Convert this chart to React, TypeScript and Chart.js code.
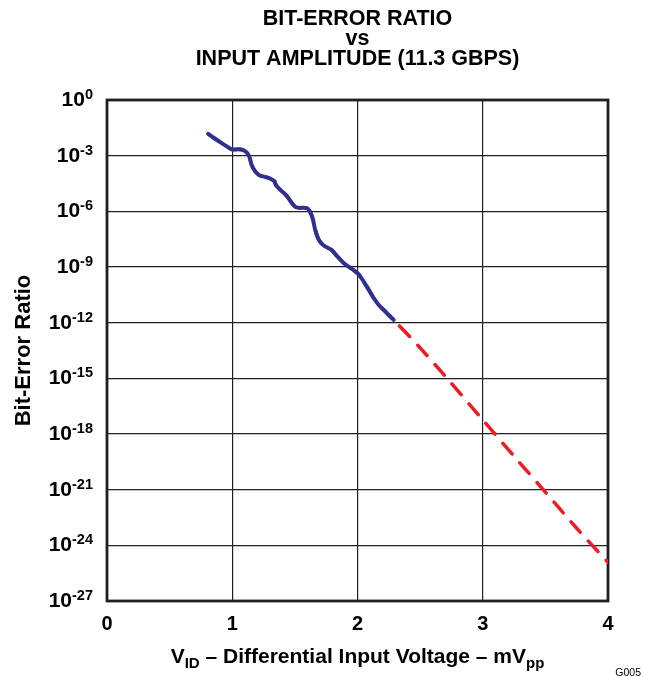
import React, { useEffect, useRef } from "react";
import { Chart, registerables } from "chart.js";

Chart.register(...registerables);

// Measured bit-error ratio vs differential input voltage (blue trace)
const measuredVoltage = [
  0.808, 0.848, 0.928, 0.995, 1.048, 1.088, 1.115, 1.136, 1.155, 1.181, 1.216,
  1.261, 1.301, 1.336, 1.349, 1.381, 1.435, 1.496, 1.528, 1.595, 1.621, 1.643,
  1.661, 1.688, 1.728, 1.795, 1.835, 1.901, 1.968, 2.008, 2.048, 2.088, 2.128,
  2.168, 2.23, 2.289,
];
const measuredBER = [
  1.5e-2, 9.5e-3, 4.2e-3, 2.2e-3, 2.2e-3, 2.0e-3, 1.5e-3, 8.9e-4, 3.1e-4, 1.5e-4, 8.9e-5,
  7.2e-5, 5.9e-5, 4.2e-5, 2.6e-5, 1.5e-5, 6.8e-6, 1.9e-6, 1.55e-6, 1.5e-6, 9.8e-7, 3.9e-7,
  1.1e-7, 3.2e-8, 1.5e-8, 8.1e-9, 4.0e-9, 1.4e-9, 6.9e-10, 4.1e-10, 1.7e-10, 6.2e-11, 2.2e-11,
  9.3e-12, 3.5e-12, 1.4e-12,
];

// Extrapolated fit beyond the measured range (red dashed trace)
const fitVoltage = [2.5, 2.715, 3.0, 3.25, 3.5, 3.75, 4.0];
const fitBER = [4.4e-14, 1.0e-15, 5.8e-18, 6.3e-20, 7.4e-22, 8.3e-24, 1.2e-25];

const xTickValues = [0, 1, 2, 3, 4];
const yTickExponents = [0, -3, -6, -9, -12, -15, -18, -21, -24, -27];

const titleLines = ["BIT-ERROR RATIO", "vs", "INPUT AMPLITUDE (11.3 GBPS)"];
const yAxisTitle = "Bit-Error Ratio";
const xAxisTitleParts = [
  { text: "V", sub: false },
  { text: "ID", sub: true },
  { text: " \u2013 Differential Input Voltage \u2013 mV", sub: false },
  { text: "pp", sub: true },
];
const figureId = "G005";

const FONT = "'Liberation Sans', Arial, Helvetica, sans-serif";
const INK = "#231F20";

const textPlugin = {
  id: "customTexts",
  beforeDatasetsDraw(chart: any) {
    const { ctx, chartArea } = chart;
    ctx.save();
    ctx.strokeStyle = INK;
    ctx.lineWidth = 2.8;
    ctx.strokeRect(
      chartArea.left,
      chartArea.top,
      chartArea.right - chartArea.left,
      chartArea.bottom - chartArea.top
    );
    ctx.restore();
  },
  afterDraw(chart: any) {
    const { ctx, chartArea, scales } = chart;
    const cx = (chartArea.left + chartArea.right) / 2;
    const cy = (chartArea.top + chartArea.bottom) / 2;
    ctx.save();
    ctx.fillStyle = "#000";

    // Title
    ctx.font = `bold 21.5px ${FONT}`;
    ctx.textAlign = "center";
    ctx.textBaseline = "alphabetic";
    const titleBaselines = [25, 45, 65];
    titleLines.forEach((t, i) => ctx.fillText(t, cx, titleBaselines[i]));

    // Y tick labels: 10^e
    const rightEdge = chartArea.left - 14;
    yTickExponents.forEach((e) => {
      const y = scales.y.getPixelForValue(Math.pow(10, e));
      const sup = String(e);
      ctx.font = `bold 14.5px ${FONT}`;
      const ws = ctx.measureText(sup).width;
      ctx.font = `bold 21px ${FONT}`;
      const wb = ctx.measureText("10").width;
      ctx.textAlign = "left";
      const baseY = y + 6;
      ctx.fillText("10", rightEdge - ws - wb, baseY);
      ctx.font = `bold 14.5px ${FONT}`;
      ctx.fillText(sup, rightEdge - ws, baseY - 7);
    });

    // X tick labels
    ctx.font = `bold 20px ${FONT}`;
    ctx.textAlign = "center";
    xTickValues.forEach((v) => {
      const x = scales.x.getPixelForValue(v);
      ctx.fillText(String(v), x, chartArea.bottom + 29);
    });

    // X axis title with subscripts
    const mainFont = `bold 21px ${FONT}`;
    const subFont = `bold 15px ${FONT}`;
    let total = 0;
    xAxisTitleParts.forEach((p) => {
      ctx.font = p.sub ? subFont : mainFont;
      total += ctx.measureText(p.text).width;
    });
    let xx = cx - total / 2;
    const xtBase = chartArea.bottom + 62;
    ctx.textAlign = "left";
    xAxisTitleParts.forEach((p) => {
      ctx.font = p.sub ? subFont : mainFont;
      ctx.fillText(p.text, xx, p.sub ? xtBase + 5 : xtBase);
      xx += ctx.measureText(p.text).width;
    });

    // Y axis title
    ctx.save();
    ctx.translate(30, cy);
    ctx.rotate(-Math.PI / 2);
    ctx.font = `bold 22px ${FONT}`;
    ctx.textAlign = "center";
    ctx.fillText(yAxisTitle, 0, 0);
    ctx.restore();

    // Figure id
    ctx.font = `10.5px ${FONT}`;
    ctx.textAlign = "right";
    ctx.fillText(figureId, 641, 676);

    ctx.restore();
  },
};

export default function App() {
  const canvasRef = useRef<HTMLCanvasElement | null>(null);

  useEffect(() => {
    const canvas = canvasRef.current;
    if (!canvas) return;
    const measured = measuredVoltage.map((x, i) => ({ x, y: measuredBER[i] }));
    const fit = [
      ...measured,
      ...fitVoltage.map((x, i) => ({ x, y: fitBER[i] })),
    ];
    const gridStyle = {
      color: INK,
      lineWidth: 1.2,
      drawTicks: false,
    };
    const chart = new Chart(canvas, {
      type: "line",
      data: {
        datasets: [
          {
            label: "Measured",
            data: measured,
            borderColor: "#2E3192",
            borderWidth: 4,
            pointRadius: 0,
            tension: 0.3,
            borderCapStyle: "round",
            borderJoinStyle: "round",
            order: 0,
          },
          {
            label: "Fit",
            data: fit,
            borderColor: "#ED1C24",
            borderWidth: 3.5,
            borderDash: [14, 12],
            borderCapStyle: "round",
            pointRadius: 0,
            tension: 0.3,
            order: 1,
          },
        ],
      },
      options: {
        animation: false,
        responsive: false,
        maintainAspectRatio: false,
        layout: { padding: { left: 107, top: 100, right: 42, bottom: 76 } },
        plugins: {
          legend: { display: false },
          title: { display: false },
          tooltip: { enabled: false },
        },
        scales: {
          x: {
            type: "linear",
            min: 0,
            max: 4,
            ticks: { display: false, stepSize: 1 },
            grid: gridStyle,
            border: { display: false },
            afterFit: (s: any) => {
              s.height = 0;
            },
          },
          y: {
            type: "logarithmic",
            min: 1e-27,
            max: 1,
            ticks: { display: false },
            afterBuildTicks: (s: any) => {
              s.ticks = yTickExponents.map((e) => ({ value: Math.pow(10, e) }));
            },
            grid: gridStyle,
            border: { display: false },
            afterFit: (s: any) => {
              s.width = 0;
            },
          },
        },
      } as any,
      plugins: [textPlugin],
    });
    return () => chart.destroy();
  }, []);

  return (
    <div style={{ position: "fixed", left: 0, top: 0, width: 650, height: 677, background: "#fff" }}>
      <canvas ref={canvasRef} width={650} height={677} />
    </div>
  );
}
